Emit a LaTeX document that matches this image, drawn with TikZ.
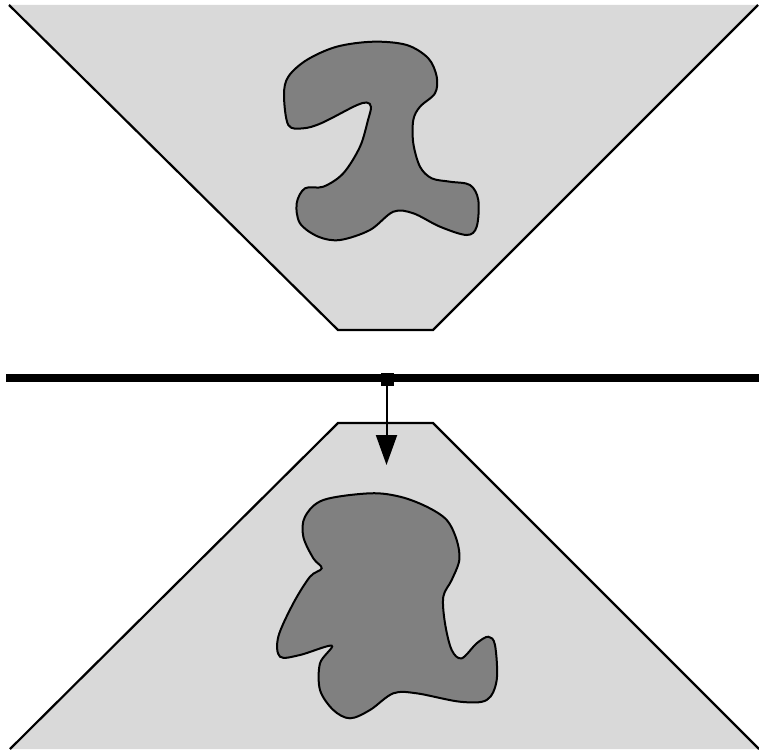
\documentclass[tikz,border=0pt]{standalone}
\usetikzlibrary{arrows.meta}
\definecolor{lightfill}{HTML}{D9D9D9}
\definecolor{blobfill}{HTML}{808080}
\tikzset{
  funnel/.style={fill=lightfill},
  funneledge/.style={draw=black, line width=2.2pt, line join=miter},
  blob/.style={fill=blobfill, draw=black, line width=2pt},
  beam/.style={draw=black, line width=8pt},
  probe/.style={draw=black, line width=2pt, -{Triangle[length=30pt,width=21pt]}}
}
\begin{document}
\begin{tikzpicture}[x=1pt,y=-1pt]
\useasboundingbox (0,0) rectangle (759,752);
% top funnel
\fill[funnel] (9,5) -- (338,330) -- (433,330) -- (758,5) -- cycle;
\draw[funneledge] (9,5) -- (338,330) -- (433,330) -- (758,5);
% bottom funnel
\fill[funnel] (10,749) -- (338,423) -- (433,423) -- (759,749) -- cycle;
\draw[funneledge] (10,749) -- (338,423) -- (433,423) -- (759,749);
% top blob
\draw[blob] plot[smooth cycle, tension=0.55] coordinates {
 (284,95) (288.3,125) (303.3,128.3) (321.7,123) (355,106) (366.7,102.5) (371,107)
 (368,120) (360,146.7) (343.3,173.3) (323.3,186.7) (305,188.3)
 (296.7,203.3) (300,223.3) (318.3,236.7) (340,240) (370,230) (393.3,211.7)
 (413.3,213.3) (440,226.7) (466.7,235) (476.7,226.7) (478.3,200) (470,185)
 (450,181.7) (431.7,178.3) (420,166.7) (413.3,143.3) (413.3,120) (420,106.7)
 (435,93.3) (436.7,76.7) (428.3,58.3) (406.7,45) (373.3,41.7) (336.7,46.7)
 (306.7,60) (288.3,76.7)};
% bottom blob
\draw[blob] plot[smooth cycle, tension=0.55] coordinates {
 (370,493.3) (323.3,500) (305,516.7) (303.3,536.7) (313.3,558.3) (321.7,568.3)
 (310,576.7) (293.3,603.3) (278.3,636.7) (280,656.7) (300,655) (331.7,645.7)
 (320,663.3) (320,690) (333.3,710) (350,718.3) (370,710) (393.3,693.3)
 (416.7,693.3) (460,701.7) (486.7,700) (496.7,680) (495,645) (488.3,636.7)
 (476.7,643.3) (461.7,658.3) (451.7,650) (445,623.3) (443.3,596.7) (451.7,580)
 (459.3,560) (456.7,540) (446.7,520) (426.7,506.7) (400,496.7)};
% beam
\coordinate (beamL) at (6,377.5);
\coordinate (beamR) at (759,377.5);
\draw[beam] (beamL) -- (beamR);
% probe square and arrow
\node[fill=black, minimum size=13pt, inner sep=0pt, outer sep=0pt] (sq) at (387.5,379.5) {};
\coordinate (start) at (386.5,381);
\coordinate (tip) at (386.5,465);
\draw[probe] (start) -- (tip);
\end{tikzpicture}
\end{document}
